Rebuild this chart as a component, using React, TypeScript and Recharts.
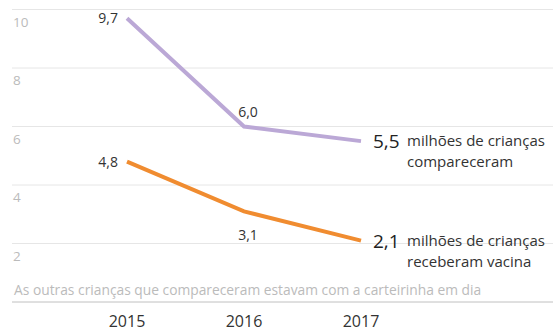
import { LineChart, Line, XAxis, YAxis, CartesianGrid, ReferenceLine, LabelList } from "recharts";

const years = ["2015", "2016", "2017"];
const compareceram = [9.7, 6.0, 5.5];
const vacinados = [4.8, 3.1, 2.1];
const yTicks = [2, 4, 6, 8, 10];

const data = years.map((year, i) => ({
  year,
  compareceram: compareceram[i],
  vacinados: vacinados[i],
}));

const FONT = "'Open Sans', sans-serif";
const fmt = (v: number) => v.toFixed(1).replace(".", ",");

function YTick(props: any) {
  const { y, payload } = props;
  return (
    <text x={13} y={y + 17} fill="#bbbbbb" fontSize={13.5} fontFamily={FONT}>
      {payload.value}
    </text>
  );
}

function XTick(props: any) {
  const { x, payload } = props;
  return (
    <text x={x} y={327} textAnchor="middle" fill="#333" fontSize={16} fontWeight={500} fontFamily={FONT}>
      {payload.value}
    </text>
  );
}

function EndLabel({ x, y, value, line2 }: any) {
  return (
    <g fontFamily={FONT}>
      <text x={x + 12} y={y + 7} fill="#222" fontSize={19}>
        {fmt(value)}
      </text>
      <text x={x + 46} y={y + 5} fill="#333" fontSize={15}>
        milhões de crianças
      </text>
      <text x={x + 46} y={y + 26} fill="#333" fontSize={15}>
        {line2}
      </text>
    </g>
  );
}

function TopLabel(props: any) {
  const { x, y, value, index } = props;
  if (index === 0)
    return (
      <text x={x - 9} y={y + 5} textAnchor="end" fill="#333" fontSize={14} fontFamily={FONT}>
        {fmt(value)}
      </text>
    );
  if (index === 1)
    return (
      <text x={x + 4} y={y - 10} textAnchor="middle" fill="#333" fontSize={14} fontFamily={FONT}>
        {fmt(value)}
      </text>
    );
  return <EndLabel x={x} y={y} value={value} line2="compareceram" />;
}

function BottomLabel(props: any) {
  const { x, y, value, index } = props;
  if (index === 0)
    return (
      <text x={x - 9} y={y + 5} textAnchor="end" fill="#333" fontSize={14} fontFamily={FONT}>
        {fmt(value)}
      </text>
    );
  if (index === 1)
    return (
      <text x={x + 4} y={y + 29} textAnchor="middle" fill="#333" fontSize={14} fontFamily={FONT}>
        {fmt(value)}
      </text>
    );
  return <EndLabel x={x} y={y} value={value} line2="receberam vacina" />;
}

export default function App() {
  return (
    <div style={{ position: "absolute", left: 0, top: 0, width: 553, height: 329, background: "#fff", fontFamily: FONT }}>
      <div style={{ position: "absolute", left: 13, top: -14, fontSize: 13, color: "#999", whiteSpace: "nowrap" }}>
        em milhões
      </div>
      <div style={{ position: "absolute", left: 14, top: 280, fontSize: 13.8, color: "#bbbbbb", whiteSpace: "nowrap" }}>
        As outras crianças que compareceram estavam com a carteirinha em dia
      </div>
      <LineChart width={553} height={329} data={data} margin={{ top: 9.5, right: 0, bottom: 0, left: 0 }}>
        <CartesianGrid vertical={false} stroke="#e6e6e6" />
        <XAxis
          dataKey="year"
          axisLine={false}
          tickLine={false}
          height={27}
          padding={{ left: 115, right: 192 }}
          tick={<XTick />}
          interval={0}
        />
        <YAxis
          domain={[0, 10]}
          ticks={yTicks}
          width={12}
          axisLine={false}
          tickLine={false}
          tick={<YTick />}
        />
        <ReferenceLine y={0} stroke="#cccccc" />
        <Line
          dataKey="compareceram"
          stroke="#bba8d6"
          strokeWidth={4}
          dot={false}
          isAnimationActive={false}
        >
          <LabelList dataKey="compareceram" content={<TopLabel />} />
        </Line>
        <Line
          dataKey="vacinados"
          stroke="#f08c30"
          strokeWidth={4}
          dot={false}
          isAnimationActive={false}
        >
          <LabelList dataKey="vacinados" content={<BottomLabel />} />
        </Line>
      </LineChart>
    </div>
  );
}
